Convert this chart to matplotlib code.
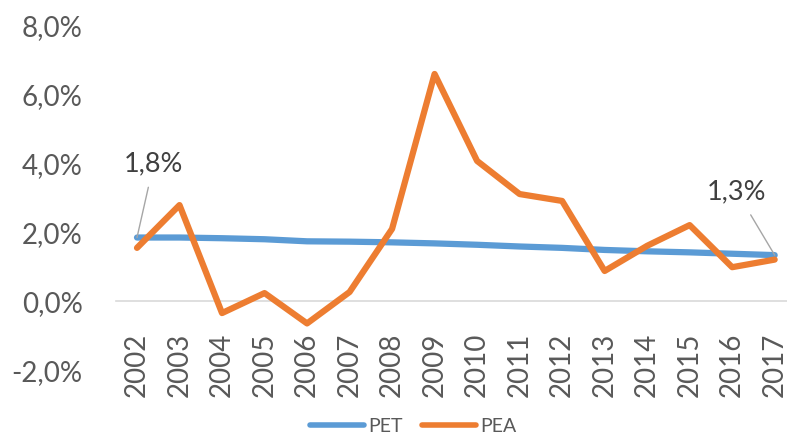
import matplotlib
matplotlib.use("Agg")
import matplotlib.pyplot as plt

plt.rcParams['font.family'] = ['Lato', 'DejaVu Sans']

# datos (%)
anios = ['2002', '2003', '2004', '2005', '2006', '2007', '2008', '2009',
         '2010', '2011', '2012', '2013', '2014', '2015', '2016', '2017']
pet = [1.84, 1.84, 1.82, 1.79, 1.73, 1.72, 1.70, 1.67,
       1.63, 1.58, 1.54, 1.48, 1.44, 1.41, 1.37, 1.33]
pea = [1.54, 2.78, -0.35, 0.23, -0.65, 0.26, 2.09, 6.58,
       4.06, 3.10, 2.90, 0.87, 1.60, 2.20, 0.98, 1.20]
yticks = [-2, 0, 2, 4, 6, 8]

gris = '#595959'
azul = '#5B9BD5'
naranja = '#ED7D31'

fig = plt.figure(figsize=(7.87, 4.39), dpi=100)
ax1 = fig.add_axes([116/787, 1-371/439, (787-116)/787, (371-26)/439])

x = list(range(len(anios)))
ax1.plot(x, pet, color=azul, lw=4.5, solid_capstyle='round', solid_joinstyle='round', label='PET')
ax1.plot(x, pea, color=naranja, lw=4.5, solid_capstyle='round', solid_joinstyle='round', label='PEA')

for s in ['top', 'right', 'left']:
    ax1.spines[s].set_visible(False)
ax1.spines['bottom'].set_position(('data', 0))
ax1.spines['bottom'].set_color('#D9D9D9')
ax1.spines['bottom'].set_linewidth(1.2)
ax1.spines['bottom'].set_zorder(0)

ax1.set_xlim(-0.494, 15.29)
ax1.set_ylim(-2, 8)
ax1.set_yticks(yticks)
ax1.set_yticklabels([('%.1f%%' % v).replace('.', ',') for v in yticks])
ax1.set_xticks(x)
ax1.set_xticklabels(anios, rotation=90)
ax1.tick_params(axis='y', length=0, pad=24, labelsize=20, labelcolor=gris)
ax1.tick_params(axis='x', length=0, pad=22, labelsize=20, labelcolor=gris)

# etiquetas de primer y ultimo valor
def etiqueta(i, dx, dy):
    txt = ('%.1f%%' % pet[i]).replace('.', ',')
    ax1.annotate(txt, xy=(i, pet[i]), xytext=(dx, dy), textcoords='offset points',
                 ha='center', va='center', fontsize=19.5, color='#404040',
                 arrowprops=dict(arrowstyle='-', color='#A6A6A6', lw=1,
                                 shrinkA=7, shrinkB=0))

etiqueta(0, 12.2, 54)
etiqueta(len(anios)-1, -27.4, 46)

leg = fig.legend(loc='center', bbox_to_anchor=(413/787, 1-427/439), ncol=2,
                 frameon=False, fontsize=14, handlelength=2.8, columnspacing=1.0,
                 handletextpad=0.2, labelcolor=gris)
for l in leg.get_lines():
    l.set_linewidth(4)

fig.savefig('out.png', dpi=100)
